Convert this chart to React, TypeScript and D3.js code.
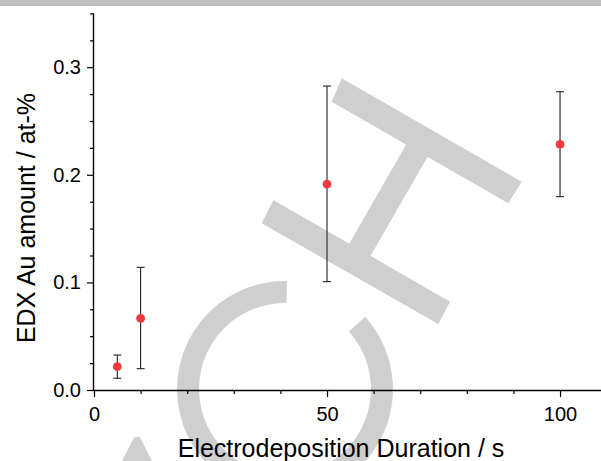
import React, { useEffect, useRef } from "react"
import * as d3 from "d3"

const durations = [5, 10, 50, 100]
const auAmount = [0.0217, 0.0666, 0.1914, 0.2283]
const errLow = [0.0109, 0.0198, 0.1007, 0.1797]
const errHigh = [0.0325, 0.114, 0.2825, 0.2772]

const xMajor = [0, 50, 100]
const xMinor = [10, 20, 30, 40, 60, 70, 80, 90]
const yMajor = [0, 0.1, 0.2, 0.3]
const yMinor = [0.025, 0.05, 0.075, 0.125, 0.15, 0.175, 0.225, 0.25, 0.275, 0.325, 0.35]

const xTitle = "Electrodeposition Duration / s"
const yTitle = "EDX Au amount / at-%"

const W = 601
const H = 461
const font = "'Liberation Sans', Arial, sans-serif"
const wmColor = "#cfcfcf"

export default function App() {
    const svgRef = useRef<SVGSVGElement>(null)

    useEffect(() => {
        const svg = d3.select(svgRef.current)
        svg.selectAll("*").remove()

        const x = d3.scaleLinear().domain([0, 106]).range([94, 588])
        const y = d3.scaleLinear().domain([0, 0.35]).range([390, 13.4])

        // page strip + watermark behind everything
        svg.append("rect").attr("x", 0).attr("y", 0).attr("width", W).attr("height", 6).attr("fill", "#c0c0c0")

        const wm = svg.append("g").attr("fill", wmColor)
        const ring = d3.arc()
            .innerRadius(86)
            .outerRadius(108)
            .startAngle((48 * Math.PI) / 180)
            .endAngle((361 * Math.PI) / 180)
        wm.append("path").attr("transform", "translate(285 389)").attr("d", ring({} as any) as string)
        wm.append("polygon").attr("points", "341.7,78.3 521.7,181.7 508.3,203.3 331.7,101.7")
        wm.append("polygon").attr("points", "273.3,200 450,301.7 438.3,324 261.7,223.3")
        wm.append("polygon").attr("points", "410,138 432,149 367,262 345,251")
        wm.append("polygon").attr("points", "122,461 134,437.5 139.5,436.5 152,461")

        // axes
        const gx = svg.append("g").attr("transform", `translate(0 ${y(0)})`)
        gx.call(d3.axisBottom(x).tickValues(xMajor).tickSize(7).tickPadding(10).tickFormat(d3.format("d")) as any)
        gx.call(g => g.select(".domain").attr("d", `M${x(0)},0.5H${W}`).attr("stroke-width", 1.4))
        const gxm = svg.append("g").attr("transform", `translate(0 ${y(0)})`)
        gxm.call(d3.axisBottom(x).tickValues(xMinor).tickSize(4).tickFormat(() => "") as any)
        gxm.select(".domain").remove()

        const gy = svg.append("g").attr("transform", `translate(${x(0)} 0)`)
        gy.call(d3.axisLeft(y).tickValues(yMajor).tickSize(7).tickPadding(6).tickFormat(d3.format(".1f")) as any)
        gy.call(g => g.select(".domain").attr("d", `M-0.5,${y(0)}V${y(0.35)}`).attr("stroke-width", 1.4))
        const gym = svg.append("g").attr("transform", `translate(${x(0)} 0)`)
        gym.call(d3.axisLeft(y).tickValues(yMinor).tickSize(4).tickFormat(() => "") as any)
        gym.select(".domain").remove()

        svg.selectAll(".tick line").attr("stroke", "#000").attr("stroke-width", 1.2)
        svg.selectAll(".tick text").attr("font-family", font).attr("font-size", 20).attr("fill", "#000")

        // error bars
        const bars = svg.append("g").attr("stroke", "#222").attr("stroke-width", 1.1)
        durations.forEach((d, i) => {
            const cx = x(d)
            bars.append("line").attr("x1", cx).attr("x2", cx).attr("y1", y(errLow[i])).attr("y2", y(errHigh[i]))
            bars.append("line").attr("x1", cx - 4).attr("x2", cx + 4).attr("y1", y(errLow[i])).attr("y2", y(errLow[i]))
            bars.append("line").attr("x1", cx - 4).attr("x2", cx + 4).attr("y1", y(errHigh[i])).attr("y2", y(errHigh[i]))
        })

        svg.append("g")
            .selectAll("circle")
            .data(durations)
            .join("circle")
            .attr("cx", d => x(d))
            .attr("cy", (d, i) => y(auAmount[i]))
            .attr("r", 4.4)
            .attr("fill", "#f03a3f")

        svg.append("text")
            .attr("x", 341)
            .attr("y", 457)
            .attr("text-anchor", "middle")
            .attr("font-family", font)
            .attr("font-size", 25)
            .text(xTitle)

        svg.append("text")
            .attr("transform", "translate(35 218) rotate(-90)")
            .attr("text-anchor", "middle")
            .attr("font-family", font)
            .attr("font-size", 25)
            .text(yTitle)
    }, [])

    return (
        <svg ref={svgRef} width={W} height={H} style={{ position: "absolute", left: 0, top: 0, background: "#fff" }} />
    )
}
